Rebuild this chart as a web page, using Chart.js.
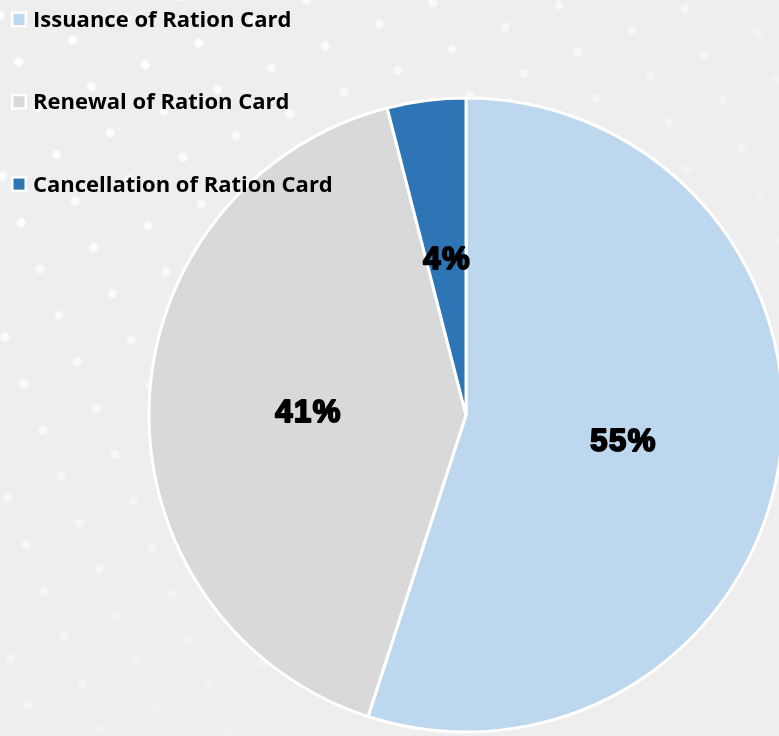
<!DOCTYPE html>
<html>
<head>
<meta charset="utf-8">
<script src="https://cdn.jsdelivr.net/npm/chart.js@4.4.1/dist/chart.umd.min.js"></script>
<style>
  html, body { margin: 0; padding: 0; width: 779px; height: 736px; overflow: hidden; background: #eeeeee; }
  #dots {
    position: absolute; left: -200px; top: -200px; width: 1300px; height: 1200px;
    background-image: radial-gradient(circle, rgba(255,255,255,0.95) 3.5px, rgba(255,255,255,0) 5.5px);
    background-size: 58px 50px;
    transform: rotate(-22deg);
    -webkit-mask-image: linear-gradient(160deg, rgba(0,0,0,1) 18%, rgba(0,0,0,0.4) 45%, rgba(0,0,0,0) 68%);
    mask-image: linear-gradient(160deg, rgba(0,0,0,1) 18%, rgba(0,0,0,0.4) 45%, rgba(0,0,0,0) 68%);
  }
  #wrap { position: absolute; left: 0; top: 0; width: 800px; height: 750px; }
</style>
</head>
<body>
<div id="dots"></div>
<div id="wrap"><canvas id="c" width="800" height="750"></canvas></div>
<script>
const categories = ["Issuance of Ration Card", "Renewal of Ration Card", "Cancellation of Ration Card"];
const shares = [55, 41, 4];
const sliceColors = ["#BDD7EE", "#D9D9D9", "#2E75B6"];

const labelPlugin = {
  id: 'sliceLabels',
  afterDatasetsDraw(chart) {
    const ctx = chart.ctx;
    const meta = chart.getDatasetMeta(0);
    const data = chart.data.datasets[0].data;
    const total = data.reduce((a, b) => a + b, 0);
    ctx.save();
    ctx.font = 'bold 31px "Liberation Sans", Arial, sans-serif';
    ctx.textAlign = 'center';
    ctx.textBaseline = 'middle';
    ctx.fillStyle = '#000';
    ctx.strokeStyle = '#000';
    ctx.lineWidth = 2;
    ctx.lineJoin = 'round';
    if ('letterSpacing' in ctx) ctx.letterSpacing = '1.5px';
    meta.data.forEach((arc, i) => {
      const p = arc.getCenterPoint();
      const txt = Math.round(data[i] / total * 100) + '%';
      ctx.strokeText(txt, p.x + 1, p.y + 3);
      ctx.fillText(txt, p.x + 1, p.y + 3);
    });
    ctx.restore();
  },
  afterDraw(chart) {
    const ctx = chart.ctx;
    const ds = chart.data.datasets[0];
    ctx.save();
    ctx.font = '700 22px "Open Sans", sans-serif';
    ctx.textAlign = 'left';
    ctx.textBaseline = 'alphabetic';
    chart.data.labels.forEach((lab, i) => {
      const cy = 19.5 + i * 82.3;
      ctx.fillStyle = '#ffffff';
      ctx.fillRect(11, cy - 8, 16, 16);
      ctx.fillStyle = ds.backgroundColor[i];
      ctx.fillRect(13.5, cy - 5.5, 11, 11);
      ctx.fillStyle = '#000';
      ctx.fillText(lab, 33, cy + 7.5);
    });
    ctx.restore();
  }
};

new Chart(document.getElementById('c'), {
  type: 'pie',
  data: {
    labels: categories,
    datasets: [{
      data: shares,
      backgroundColor: sliceColors,
      borderColor: '#ffffff',
      borderWidth: 3,
      radius: 317
    }]
  },
  options: {
    responsive: false,
    animation: false,
    devicePixelRatio: 1,
    layout: { padding: { left: 146, top: 95, right: 14, bottom: 15 } },
    plugins: {
      legend: { display: false },
      tooltip: { enabled: false }
    }
  },
  plugins: [labelPlugin]
});
</script>
</body>
</html>
